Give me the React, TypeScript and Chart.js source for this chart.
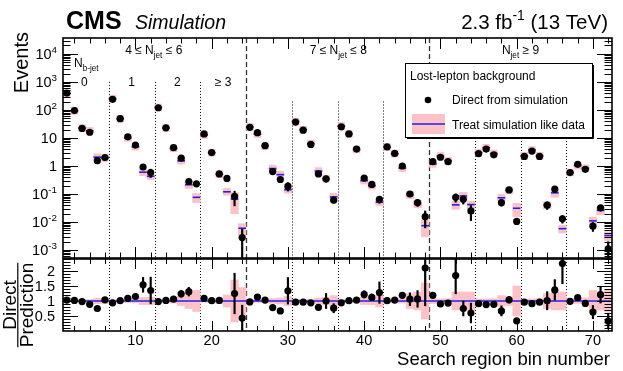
import React, { useEffect, useRef } from "react";
import { Chart, registerables } from "chart.js";
Chart.register(...registerables);

// ---------------- data ----------------
const binNumbers: number[] = Array.from({ length: 72 }, (_, i) => i + 1);

const directValues: number[] = [
  400, 95, 22, 16, 1.55, 2.0, 240, 49, 11, 5.6, 0.92, 0.58,
  120, 23, 4.5, 1.9, 0.28, 0.23, 14, 3.0, 0.52, 0.36, 0.082, 0.0028,
  24, 15.5, 5.3, 0.63, 0.33, 0.19, 37, 19, 5.9, 0.52, 0.35, 0.06,
  25, 14, 4.0, 0.37, 0.22, 0.065, 4.8, 2.8, 1.0, 0.1, 0.049, 0.0155,
  1.42, 2.05, 1.42, 0.076, 0.065, 0.025, 2.75, 4.0, 2.5, 0.049, 0.14, 0.0105,
  2.2, 3.4, 2.2, 0.04, 0.15, 0.013, 0.58, 1.15, 0.76, 0.0071, 0.032, 0.0011,
];
const directRelErr: number[] = [
  0.02, 0.03, 0.05, 0.05, 0.1, 0.08, 0.02, 0.03, 0.05, 0.06, 0.16, 0.33,
  0.03, 0.04, 0.06, 0.09, 0.11, 0.2, 0.04, 0.05, 0.07, 0.15, 0.54, 1.0,
  0.03, 0.04, 0.05, 0.08, 0.1, 0.33, 0.03, 0.04, 0.05, 0.08, 0.25, 0.2,
  0.03, 0.04, 0.05, 0.1, 0.1, 0.28, 0.05, 0.05, 0.08, 0.2, 0.26, 0.6,
  0.06, 0.05, 0.06, 0.33, 0.33, 0.55, 0.05, 0.05, 0.06, 0.25, 0.1, 0.15,
  0.05, 0.05, 0.06, 0.3, 0.25, 0.3, 0.08, 0.07, 0.08, 0.35, 0.23, 0.8,
];
const predictionValues: number[] = [
  388, 93, 22.4, 18, 2.07, 1.92, 255, 48.5, 10.1, 4.87, 0.6, 0.43,
  122, 22.5, 4.25, 1.53, 0.214, 0.076, 12.8, 2.97, 0.51, 0.12, 0.066, 0.006,
  24.7, 13.7, 5.15, 0.81, 0.49, 0.142, 38.5, 19.8, 6.3, 0.66, 0.35, 0.079,
  26.6, 14, 3.9, 0.3, 0.196, 0.051, 4.75, 2.72, 0.84, 0.094, 0.046, 0.0074,
  1.19, 2.28, 1.53, 0.041, 0.085, 0.042, 3.0, 4.5, 2.8, 0.073, 0.135, 0.031,
  2.3, 3.7, 2.3, 0.04, 0.11, 0.0058, 0.585, 1.04, 0.83, 0.011, 0.026, 0.0033,
];
const predictionRelErr: number[] = [
  0.03, 0.04, 0.05, 0.05, 0.09, 0.08, 0.04, 0.04, 0.05, 0.06, 0.12, 0.12,
  0.04, 0.05, 0.07, 0.15, 0.25, 0.35, 0.04, 0.05, 0.08, 0.2, 0.7, 0.45,
  0.04, 0.05, 0.05, 0.08, 0.1, 0.15, 0.04, 0.05, 0.05, 0.1, 0.12, 0.18,
  0.05, 0.05, 0.06, 0.12, 0.12, 0.2, 0.05, 0.06, 0.07, 0.25, 0.3, 0.6,
  0.08, 0.07, 0.08, 0.3, 0.3, 0.3, 0.07, 0.07, 0.08, 0.18, 0.15, 0.5,
  0.06, 0.07, 0.08, 0.25, 0.3, 0.3, 0.08, 0.08, 0.1, 0.35, 0.3, 0.35,
];
const ratioValues: number[] = [
  1.03, 1.02, 0.98, 0.89, 0.75, 1.04, 0.94, 1.01, 1.09, 1.15, 1.54, 1.35,
  0.98, 1.02, 1.06, 1.24, 1.31, 3.0, 1.09, 1.01, 1.02, 3.0, 1.25, 0.43,
  0.97, 1.13, 1.03, 0.78, 0.67, 1.34, 0.96, 0.96, 0.94, 0.79, 1.0, 0.76,
  0.94, 1.01, 1.03, 1.22, 1.12, 1.28, 1.01, 1.03, 1.19, 1.06, 1.07, 2.1,
  1.19, 0.9, 0.93, 1.85, 0.75, 0.6, 0.91, 0.88, 0.89, 0.67, 1.04, 0.34,
  0.96, 0.91, 0.96, 1.01, 1.37, 2.25, 0.99, 1.11, 0.92, 0.63, 1.21, 0.33,
];

const xTickLabels: number[] = [10, 20, 30, 40, 50, 60, 70];
const logTickExponents: number[] = [-3, -2, -1, 0, 1, 2, 3, 4];
const ratioTickLabels: number[] = [0.5, 1, 1.5, 2];
const dashedSeparators: number[] = [24.5, 48.5];
const dottedSeparators: number[] = [6.5, 12.5, 18.5, 30.5, 36.5, 42.5, 54.5, 60.5, 66.5];
const dottedStartValues: number[] = [1000, 1000, 1000, 200, 200, 200, 10, 10, 10];
const njetLabels = [
  { center: 12.4, parts: [{ t: "4 ≤ N" }, { t: "jet", sub: true }, { t: " ≤ 6" }] },
  { center: 36.6, parts: [{ t: "7 ≤ N" }, { t: "jet", sub: true }, { t: " ≤ 8" }] },
  { center: 60.5, parts: [{ t: "N" }, { t: "jet", sub: true }, { t: " ≥ 9" }] },
];
const nbLabels = [
  { bin: 3.3, text: "0" },
  { bin: 9.5, text: "1" },
  { bin: 15.5, text: "2" },
  { bin: 21.5, text: "≥ 3" },
];

// ---------------- style ----------------
const FONT = "'Liberation Sans', Arial, Helvetica, sans-serif";
const PINK = "#fdc2c7";
const BLUE = "#2020f0";
const W = 623;
const H = 371;

type Part = { t: string; sub?: boolean; sup?: boolean };

function drawRich(
  ctx: CanvasRenderingContext2D,
  parts: Part[],
  x: number,
  y: number,
  size: number,
  align: "left" | "center" | "right",
  style = ""
) {
  const widths: number[] = [];
  let total = 0;
  for (const p of parts) {
    const s = p.sub || p.sup ? size * 0.68 : size;
    ctx.font = `${style} ${s}px ${FONT}`;
    const w = ctx.measureText(p.t).width;
    widths.push(w);
    total += w;
  }
  let cx = align === "left" ? x : align === "center" ? x - total / 2 : x - total;
  ctx.textAlign = "left";
  ctx.textBaseline = "alphabetic";
  parts.forEach((p, i) => {
    const s = p.sub || p.sup ? size * 0.68 : size;
    ctx.font = `${style} ${s}px ${FONT}`;
    const dy = p.sub ? size * 0.3 : p.sup ? -size * 0.42 : 0;
    ctx.fillText(p.t, cx, y + dy);
    cx += widths[i];
  });
}

function seg(ctx: CanvasRenderingContext2D, x1: number, y1: number, x2: number, y2: number) {
  ctx.beginPath();
  ctx.moveTo(x1, y1);
  ctx.lineTo(x2, y2);
  ctx.stroke();
}

function drawSeparators(chart: any, starts: number[] | null) {
  const { ctx, chartArea: a, scales } = chart;
  const xs = scales.x;
  const ys = scales.y;
  ctx.save();
  ctx.beginPath();
  ctx.rect(a.left, a.top, a.right - a.left, a.bottom - a.top);
  ctx.clip();
  ctx.strokeStyle = "#333";
  ctx.lineWidth = 1.3;
  ctx.setLineDash([5, 3]);
  dashedSeparators.forEach((v) => {
    const px = Math.round(xs.getPixelForValue(v)) + 0.5;
    seg(ctx, px, a.top, px, a.bottom);
  });
  ctx.strokeStyle = "#000";
  ctx.lineWidth = 1;
  ctx.setLineDash([1, 2]);
  dottedSeparators.forEach((v, i) => {
    const px = Math.round(xs.getPixelForValue(v)) + 0.5;
    const py = starts ? ys.getPixelForValue(starts[i]) : a.top;
    seg(ctx, px, py, px, a.bottom);
  });
  ctx.restore();
}

function drawXTicks(chart: any, major: number, minor: number) {
  const { ctx, chartArea: a, scales } = chart;
  const xs = scales.x;
  for (let t = 2; t <= 72; t += 2) {
    const px = Math.round(xs.getPixelForValue(t)) + 0.5;
    const len = t % 10 === 0 ? major : minor;
    seg(ctx, px, a.bottom, px, a.bottom - len);
    seg(ctx, px, a.top, px, a.top + len);
  }
}

const topPlugin = {
  id: "topDecor",
  beforeDatasetsDraw(chart: any) {
    drawSeparators(chart, dottedStartValues);
  },
  afterDraw(chart: any) {
    const { ctx, chartArea: a, scales } = chart;
    const xs = scales.x;
    const ys = scales.y;
    ctx.save();
    ctx.strokeStyle = "#000";
    ctx.fillStyle = "#000";
    ctx.lineWidth = 1;
    ctx.setLineDash([]);
    drawXTicks(chart, 11, 5.5);
    for (let d = -4; d <= 5; d++) {
      for (let k = 1; k <= 9; k++) {
        const v = k * Math.pow(10, d);
        if (v < ys.min || v > ys.max) continue;
        const py = Math.round(ys.getPixelForValue(v)) + 0.5;
        const len = k === 1 ? 15 : 7.5;
        seg(ctx, a.left, py, a.left + len, py);
        seg(ctx, a.right, py, a.right - len, py);
      }
    }
    ctx.lineWidth = 1.6;
    ctx.strokeRect(a.left, a.top, a.right - a.left, a.bottom - a.top);

    // y tick labels
    logTickExponents.forEach((e) => {
      const py = ys.getPixelForValue(Math.pow(10, e));
      const parts: Part[] =
        e === 0 ? [{ t: "1" }] : e === 1 ? [{ t: "10" }] : [{ t: "10" }, { t: String(e), sup: true }];
      drawRich(ctx, parts, 57, py + 5, 14.5, "right");
    });

    // header
    ctx.fillStyle = "#000";
    drawRich(ctx, [{ t: "CMS" }], 66, 29, 25, "left", "bold");
    drawRich(ctx, [{ t: "Simulation" }], 135, 29, 19.5, "left", "italic");
    drawRich(ctx, [{ t: "2.3 fb" }, { t: "-1", sup: true }, { t: " (13 TeV)" }], 608, 29, 20.5, "right");

    // Events title
    ctx.save();
    ctx.translate(28, 32);
    ctx.rotate(-Math.PI / 2);
    ctx.font = `20px ${FONT}`;
    ctx.textAlign = "right";
    ctx.textBaseline = "alphabetic";
    ctx.fillText("Events", 0, 0);
    ctx.restore();

    // region labels
    njetLabels.forEach((l) => {
      drawRich(ctx, l.parts, xs.getPixelForValue(l.center), 54, 12, "center");
    });
    drawRich(ctx, [{ t: "N" }, { t: "b-jet", sub: true }], 74, 67, 12, "left");
    nbLabels.forEach((l) => {
      drawRich(ctx, [{ t: l.text }], xs.getPixelForValue(l.bin), 86, 12, "center");
    });

    // legend
    const lx = 405, ly = 63, lw = 187, lh = 74;
    ctx.fillStyle = "#fff";
    ctx.fillRect(lx, ly, lw, lh);
    ctx.strokeStyle = "#000";
    ctx.lineWidth = 1;
    ctx.strokeRect(lx + 0.5, ly + 0.5, lw, lh);
    seg(ctx, lx + lw + 1.5, ly + 2, lx + lw + 1.5, ly + lh + 1.5);
    seg(ctx, lx + 2, ly + lh + 1.5, lx + lw + 1.5, ly + lh + 1.5);
    ctx.fillStyle = "#000";
    drawRich(ctx, [{ t: "Lost-lepton background" }], 410, 80, 12, "left");
    ctx.beginPath();
    ctx.arc(428, 100, 3.3, 0, Math.PI * 2);
    ctx.fill();
    drawRich(ctx, [{ t: "Direct from simulation" }], 452, 104, 12, "left");
    ctx.fillStyle = PINK;
    ctx.fillRect(412, 114, 33, 20);
    ctx.strokeStyle = BLUE;
    ctx.lineWidth = 1.5;
    seg(ctx, 412, 124, 445, 124);
    ctx.fillStyle = "#000";
    drawRich(ctx, [{ t: "Treat simulation like data" }], 452, 129, 12, "left");
    ctx.restore();
  },
};

const ratioPlugin = {
  id: "ratioDecor",
  beforeDatasetsDraw(chart: any) {
    drawSeparators(chart, null);
  },
  afterDraw(chart: any) {
    const { ctx, chartArea: a, scales } = chart;
    const xs = scales.x;
    const ys = scales.y;
    ctx.save();
    ctx.strokeStyle = "#000";
    ctx.fillStyle = "#000";
    ctx.lineWidth = 1;
    ctx.setLineDash([]);
    drawXTicks(chart, 10, 5);
    for (let i = 1; i <= 24; i++) {
      const v = i / 10;
      const py = Math.round(ys.getPixelForValue(v)) + 0.5;
      const len = i % 5 === 0 ? 15 : 7.5;
      seg(ctx, a.left, py, a.left + len, py);
      seg(ctx, a.right, py, a.right - len, py);
    }
    ctx.lineWidth = 1.6;
    ctx.strokeRect(a.left, a.top, a.right - a.left, a.bottom - a.top);

    ratioTickLabels.forEach((v) => {
      drawRich(ctx, [{ t: String(v) }], 55, ys.getPixelForValue(v) + 5, 14.5, "right");
    });
    xTickLabels.forEach((v) => {
      drawRich(ctx, [{ t: String(v) }], xs.getPixelForValue(v), 345, 14.5, "center");
    });
    drawRich(ctx, [{ t: "Search region bin number" }], 610, 365, 18.5, "right");

    // Direct / Prediction
    ctx.save();
    ctx.translate(0, 305);
    ctx.rotate(-Math.PI / 2);
    ctx.font = `19px ${FONT}`;
    ctx.textAlign = "center";
    ctx.textBaseline = "alphabetic";
    ctx.fillText("Direct", 0, 15.5);
    ctx.fillText("Prediction", 0, 32.5);
    const pw = ctx.measureText("Prediction").width;
    ctx.lineWidth = 1.2;
    seg(ctx, -pw / 2, 17.8, pw / 2, 17.8);
    ctx.restore();
    ctx.restore();
  },
};

function baseOptions(padding: any, yScale: any) {
  return {
    responsive: false,
    animation: false as const,
    devicePixelRatio: 1,
    events: [],
    layout: { padding },
    plugins: { legend: { display: false }, tooltip: { enabled: false }, title: { display: false } },
    scales: {
      x: { type: "linear" as const, min: 0.5, max: 72.5, display: false, offset: false },
      y: yScale,
    },
  };
}

export default function App() {
  const topRef = useRef<HTMLCanvasElement>(null);
  const ratioRef = useRef<HTMLCanvasElement>(null);

  useEffect(() => {
    const predBox = binNumbers.map((b, i) => ({
      x: b,
      y: [predictionValues[i] * (1 - predictionRelErr[i]), predictionValues[i] * (1 + predictionRelErr[i])],
    }));
    const directErrBars = binNumbers.map((b, i) => ({
      x: b,
      y: [Math.max(directValues[i] * (1 - directRelErr[i]), 1e-6), directValues[i] * (1 + directRelErr[i])],
    }));
    const predPoints = binNumbers.map((b, i) => ({ x: b, y: predictionValues[i] }));
    const topChart = new Chart(topRef.current as HTMLCanvasElement, {
      type: "bar",
      data: {
        datasets: [
          {
            type: "line",
            data: predPoints,
            showLine: false,
            pointStyle: "rect",
            pointRadius: 5.3,
            pointBackgroundColor: PINK,
            pointBorderWidth: 0,
            order: 5,
          },
          {
            type: "bar",
            data: predBox as any,
            backgroundColor: PINK,
            borderWidth: 0,
            barPercentage: 1,
            categoryPercentage: 1,
            grouped: false,
            order: 4,
          },
          {
            type: "line",
            data: predPoints,
            showLine: false,
            pointStyle: "line",
            pointRadius: 3.8,
            borderColor: BLUE,
            pointBorderColor: BLUE,
            pointBorderWidth: 1.6,
            order: 3,
          },
          {
            type: "bar",
            data: directErrBars as any,
            backgroundColor: "#000",
            borderWidth: 0,
            barThickness: 1.5,
            grouped: false,
            order: 2,
          },
          {
            type: "line",
            data: binNumbers.map((b, i) => ({ x: b, y: directValues[i] })),
            showLine: false,
            pointStyle: "circle",
            pointRadius: 3.6,
            pointBackgroundColor: "#000",
            pointBorderWidth: 0,
            order: 1,
          },
        ],
      },
      options: baseOptions(
        { left: 63, right: 11, top: 38, bottom: 113 },
        { type: "logarithmic", min: 5.2e-4, max: 3.7e4, display: false }
      ) as any,
      plugins: [topPlugin],
    });

    const ratioBand = binNumbers.map((b, i) => ({
      x: b,
      y: [1 - predictionRelErr[i], 1 + predictionRelErr[i]],
    }));
    const ratioErr = binNumbers.map((b, i) => ({
      x: b,
      y: [Math.max(ratioValues[i] * (1 - directRelErr[i]), 0), ratioValues[i] * (1 + directRelErr[i])],
    }));
    const ratioChart = new Chart(ratioRef.current as HTMLCanvasElement, {
      type: "bar",
      data: {
        datasets: [
          {
            type: "bar",
            data: ratioBand as any,
            backgroundColor: PINK,
            borderWidth: 0,
            barPercentage: 1,
            categoryPercentage: 1,
            grouped: false,
            order: 4,
          },
          {
            type: "line",
            data: [
              { x: 0.5, y: 1 },
              { x: 72.5, y: 1 },
            ],
            borderColor: BLUE,
            borderWidth: 1.5,
            pointRadius: 0,
            order: 3,
          },
          {
            type: "bar",
            data: ratioErr as any,
            backgroundColor: "#000",
            borderWidth: 0,
            barThickness: 1.5,
            grouped: false,
            order: 2,
            clip: 0,
          },
          {
            type: "line",
            data: binNumbers.map((b, i) => ({ x: b, y: ratioValues[i] })),
            showLine: false,
            pointStyle: "circle",
            pointRadius: 3.6,
            pointBackgroundColor: "#000",
            pointBorderWidth: 0,
            order: 1,
            clip: 0,
          },
        ],
      },
      options: baseOptions(
        { left: 63, right: 11, top: 259, bottom: 40 },
        { type: "linear", min: 0, max: 2.4, display: false }
      ) as any,
      plugins: [ratioPlugin],
    });

    return () => {
      topChart.destroy();
      ratioChart.destroy();
    };
  }, []);

  const cs: React.CSSProperties = { position: "absolute", left: 0, top: 0, width: W, height: H };
  return (
    <div style={{ position: "fixed", left: 0, top: 0, width: W, height: H, background: "#fff" }}>
      <canvas ref={topRef} width={W} height={H} style={cs} />
      <canvas ref={ratioRef} width={W} height={H} style={cs} />
    </div>
  );
}
